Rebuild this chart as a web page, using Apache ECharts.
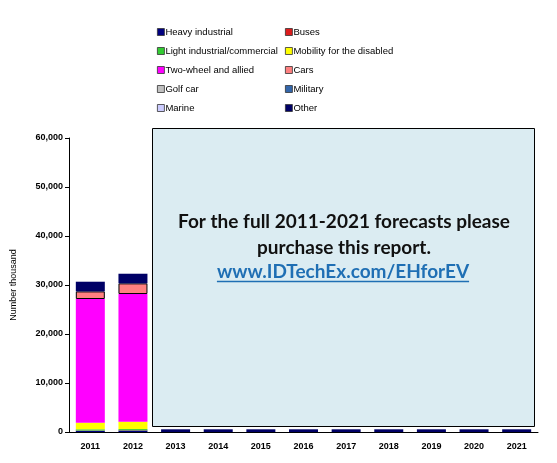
<!DOCTYPE html>
<html>
<head>
<meta charset="utf-8">
<script src="https://cdn.jsdelivr.net/npm/echarts@6/dist/echarts.min.js"></script>
<style>
  html, body { margin: 0; padding: 0; background: #fff; }
  #main { width: 557px; height: 463px; }
</style>
</head>
<body>
<div id="main"></div>
<script>
// years on the x axis
var years = ["2011", "2012", "2013", "2014", "2015", "2016", "2017", "2018", "2019", "2020", "2021"];

// values in thousand units
var heavyIndustrial = [250, 300, null, null, null, null, null, null, null, null, null];
var buses = [50, 50, null, null, null, null, null, null, null, null, null];
var lightIndustrial = [250, 250, null, null, null, null, null, null, null, null, null];
var mobility = [1350, 1500, null, null, null, null, null, null, null, null, null];
var twoWheel = [25240, 26060, null, null, null, null, null, null, null, null, null];
var cars = [1550, 2170, null, null, null, null, null, null, null, null, null];
var golfCar = [null, null, null, null, null, null, null, null, null, null, null];
var military = [null, null, null, null, null, null, null, null, null, null, null];
var marine = [null, null, null, null, null, null, null, null, null, null, null];
var other = [1980, 1970, 550, 550, 550, 550, 550, 550, 550, 550, 550];

var yTicks = [0, 10000, 20000, 30000, 40000, 50000, 60000];

var seriesDefs = [
  { name: "Heavy industrial", data: heavyIndustrial, color: "#000080" },
  { name: "Buses", data: buses, color: "#dd1c1c" },
  { name: "Light industrial/commercial", data: lightIndustrial, color: "#33cc33" },
  { name: "Mobility for the disabled", data: mobility, color: "#ffff00" },
  { name: "Two-wheel and allied", data: twoWheel, color: "#ff00ff" },
  { name: "Cars", data: cars, color: "#ff8080", border: true },
  { name: "Golf car", data: golfCar, color: "#c0c0c0", border: true },
  { name: "Military", data: military, color: "#3366aa" },
  { name: "Marine", data: marine, color: "#ccccff", border: true },
  { name: "Other", data: other, color: "#000066" },
];

var myChart = echarts.init(document.getElementById("main"));

// underline width for the link text
var textFont = "bold 19px Lato";
var ctx = document.createElement("canvas").getContext("2d");
ctx.font = textFont;
var linkText = "www.IDTechEx.com/EHforEV";
var linkW = ctx.measureText(linkText).width;

var legendCommon = {
  orient: "vertical",
  top: 22,
  itemWidth: 7,
  itemHeight: 7,
  itemGap: 9,
  icon: "rect",
  selectedMode: false,
  textStyle: { fontFamily: "Liberation Sans, Arial", fontSize: 9.5, color: "#000", padding: [0, 0, 0, -4] },
  itemStyle: { borderColor: "#333", borderWidth: 0.8 },
};

var option = {
  backgroundColor: "#fff",
  animation: false,
  legend: [
    Object.assign({ left: 152, data: seriesDefs.filter(function (s, i) { return i % 2 === 0; }).map(function (s) { return s.name; }) }, legendCommon),
    Object.assign({ left: 280, data: seriesDefs.filter(function (s, i) { return i % 2 === 1; }).map(function (s) { return s.name; }) }, legendCommon),
  ],
  grid: { left: 69, right: 19, top: 138, bottom: 31 },
  xAxis: {
    type: "category",
    data: years,
    axisLine: { lineStyle: { color: "#000", width: 1 } },
    axisTick: { alignWithLabel: false, length: 4, lineStyle: { color: "#000" } },
    axisLabel: { fontFamily: "Liberation Sans, Arial", fontSize: 9, fontWeight: "bold", color: "#000", margin: 10 },
  },
  yAxis: {
    type: "value",
    min: yTicks[0],
    max: yTicks[yTicks.length - 1],
    interval: 10000,
    name: "Number thousand",
    nameLocation: "middle",
    nameGap: 51,
    nameTextStyle: { fontFamily: "Liberation Sans, Arial", fontSize: 9, color: "#000" },
    axisLine: { show: true, lineStyle: { color: "#000", width: 1 } },
    axisTick: { show: true, length: 4, lineStyle: { color: "#000" } },
    splitLine: { show: false },
    axisLabel: {
      fontFamily: "Liberation Sans, Arial",
      fontSize: 9,
      fontWeight: "bold",
      color: "#000",
      margin: 6,
      formatter: function (v) { return v.toLocaleString("en-US"); },
    },
  },
  series: seriesDefs.map(function (s) {
    return {
      name: s.name,
      type: "bar",
      stack: "total",
      barWidth: 29,
      data: s.data,
      itemStyle: {
        color: s.color,
        borderColor: s.border ? "#000" : s.color,
        borderWidth: s.border ? 1 : 0,
      },
    };
  }),
  graphic: [
    {
      type: "rect",
      z: 100,
      shape: { x: 152.5, y: 128.5, width: 382, height: 298 },
      style: { fill: "#dbecf2", stroke: "#000", lineWidth: 1 },
    },
    {
      type: "text",
      z: 101,
      x: 344,
      y: 222,
      style: { text: "For the full 2011-2021 forecasts please", fill: "#111", font: textFont, textAlign: "center", textVerticalAlign: "middle" },
    },
    {
      type: "text",
      z: 101,
      x: 344,
      y: 248,
      style: { text: "purchase this report.", fill: "#111", font: textFont, textAlign: "center", textVerticalAlign: "middle" },
    },
    {
      type: "text",
      z: 101,
      x: 343,
      y: 272,
      style: { text: linkText, fill: "#1f6fb4", font: textFont, textAlign: "center", textVerticalAlign: "middle" },
    },
    {
      type: "line",
      z: 101,
      shape: { x1: 343 - linkW / 2, y1: 281.5, x2: 343 + linkW / 2, y2: 281.5 },
      style: { stroke: "#1f6fb4", lineWidth: 1.5 },
    },
  ],
};

option && myChart.setOption(option);
</script>
</body>
</html>
